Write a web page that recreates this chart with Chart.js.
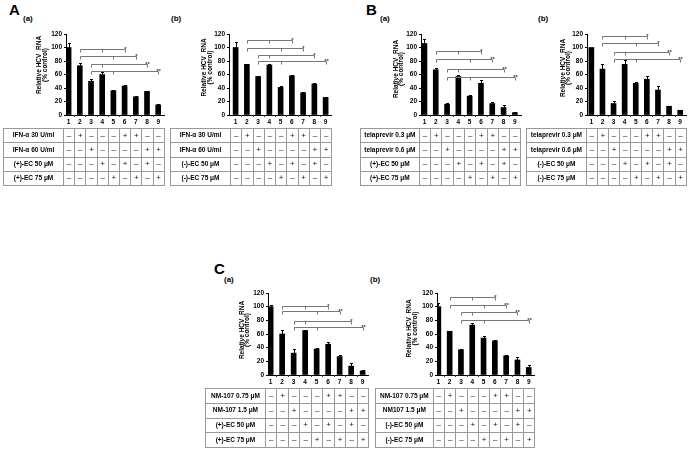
<!DOCTYPE html>
<html><head><meta charset="utf-8">
<script src="https://cdn.jsdelivr.net/npm/chart.js@4/dist/chart.umd.min.js"></script>
<style>
html,body{margin:0;padding:0;background:#fff;}
#fig{position:relative;width:689px;height:449px;overflow:hidden;font-family:Arial,"Liberation Sans",sans-serif;}
.lbl{position:absolute;font-weight:bold;color:#000;white-space:nowrap;line-height:1;}
.big{font-size:15px;}
.sub{font-size:8px;}
canvas{position:absolute;}
table.tr{position:absolute;border-collapse:collapse;border:1.5px solid #333;table-layout:fixed;font-weight:bold;font-size:6.5px;color:#000;filter:grayscale(1);}
table.tr td{border:1px solid #999;padding:0;text-align:center;overflow:hidden;white-space:nowrap;line-height:1;}
table.tr td.s{font-size:8px;font-weight:normal;color:#111;}
</style>
</head><body><div id="fig"></div>
<script>
// ---------- data ----------
const lanes = ['1','2','3','4','5','6','7','8','9'];
const yTicks = [0,20,40,60,80,100,120];
const yTitle = ['Relative HCV  RNA','(% control)'];
const signRows = [
  ['–','+','–','–','–','+','+','–','–'],
  ['–','–','+','–','–','–','–','+','+'],
  ['–','–','–','+','–','+','–','+','–'],
  ['–','–','–','–','+','–','+','–','+']
];

const aaLabels = ['IFN-α 30 U/ml','IFN-α 60 U/ml','(+)-EC 50 μM','(+)-EC 75 μM'];
const aaValues = [100,73,50,60,36,43,27,35,15];
const aaErrors = [7,3.5,3,3.5,1,2,1,1,1];
const aaBrackets = [[2,4,6,97.7,'*'],[2,5,7,86.8,'*'],[3,4,8,75.9,'**'],[3,5,9,65.9,'**']];

const abLabels = ['IFN-α 30 U/ml','IFN-α 60 U/ml','(-)-EC 50 μM','(-)-EC 75 μM'];
const abValues = [100,75,57,74,41,58,33,46,26];
const abErrors = [8,1,1.5,1,2,1.5,1,1,1];
const abBrackets = [[2,4,6,110.6,'*'],[2,5,7,99.2,'*'],[3,4,8,89.2,'*'],[3,5,9,79.3,'**']];

const baLabels = ['telaprevir 0.3 μM','telaprevir 0.6 μM','(+)-EC 50 μM','(+)-EC 75 μM'];
const baValues = [106,67,16,57,28,47,17,11,3.5];
const baErrors = [7,2,2,2,1,5,2,4,1];
const baBrackets = [[2,4,6,94.2,'*'],[2,5,7,82.8,'**'],[3,4,8,68.4,'**'],[3,5,9,57,'**']];

const bbLabels = ['telaprevir 0.3 μM','telaprevir 0.6 μM','(-)-EC 50 μM','(-)-EC 75 μM'];
const bbValues = [100,68,17,75,47,53,37,13,7];
const bbErrors = [0,8,4,6,2,4.5,6.5,1,1];
const bbBrackets = [[2,4,6,117.5,'*'],[2,5,7,106.6,'*'],[3,4,8,92.7,'**'],[3,5,9,82.8,'**']];

const caLabels = ['NM-107 0.75 μM','NM-107 1.5 μM','(+)-EC 50 μM','(+)-EC 75 μM'];
const caValues = [100,60,32,65,38,45,27,13,6];
const caErrors = [3,6,6,1,1,3.5,2,4,2];
const caBrackets = [[2,4,6,101.5,'*'],[2,5,7,93.1,'**'],[3,4,8,78.4,'*'],[3,5,9,70.1,'**']];

const cbLabels = ['NM-107 0.75 μM','NM107 1.5 μM','(-)-EC 50 μM','(-)-EC 75 μM'];
const cbValues = [100,64,37,73,54,50,28,22,11];
const cbErrors = [5,1,1.5,3.5,3,1,2,4,3];
const cbBrackets = [[2,4,6,113.7,'*'],[2,5,7,102.9,'**'],[3,4,8,92.2,'**'],[3,5,9,79.9,'**']];

// ---------- layout ----------
const panels = [
  {letter:'A',lx:9,ly:2,sub:'(a)',sx:23,sy:15,axisX:66,y120:34,y0:115,colStart:63,colW:11.2,tableX:3,tableY:128,rowH:14.25,tdx:26.5,tcy:31,
   labels:aaLabels,values:aaValues,errors:aaErrors,brackets:aaBrackets},
  {sub:'(b)',sx:171,sy:15,axisX:229,y120:34,y0:115,colStart:230,colW:11.25,tableX:170,tableY:128,rowH:14.25,tdx:24.5,tcy:33.5,
   labels:abLabels,values:abValues,errors:abErrors,brackets:abBrackets},
  {letter:'B',lx:366,ly:2,sub:'(a)',sx:380,sy:15,axisX:421,y120:34,y0:115,colStart:418.8,colW:11.3,tableX:360,tableY:128,rowH:14.25,tdx:25,tcy:35,
   labels:baLabels,values:baValues,errors:baErrors,brackets:baBrackets},
  {sub:'(b)',sx:538,sy:15,axisX:587,y120:34,y0:115,colStart:585.8,colW:11.1,tableX:526,tableY:128,rowH:14.25,tdx:24,tcy:34,
   labels:bbLabels,values:bbValues,errors:bbErrors,brackets:bbBrackets},
  {letter:'C',lx:214,ly:261,sub:'(a)',sx:224,sy:276,axisX:268,y120:293,y0:375,colStart:264.9,colW:11.5,tableX:205,tableY:388,rowH:14.75,tdx:26,tcy:37,
   labels:caLabels,values:caValues,errors:caErrors,brackets:caBrackets},
  {sub:'(b)',sx:370,sy:276,axisX:437,y120:293,y0:375,colStart:432.7,colW:11.3,tableX:375,tableY:388,rowH:14.75,tdx:27.5,tcy:35.5,
   labels:cbLabels,values:cbValues,errors:cbErrors,brackets:cbBrackets}
];

const annot = {
  id:'annot',
  afterDatasetsDraw(chart, args, o){
    const ctx = chart.ctx, xs = chart.scales.x, ys = chart.scales.y, ca = chart.chartArea;
    ctx.save();
    // error bars
    ctx.strokeStyle = '#000'; ctx.lineWidth = 1;
    o.values.forEach((v,i)=>{
      const e = o.errors[i]; if(!e) return;
      const x = Math.round(xs.getPixelForValue(i+1))+0.5;
      const y1 = ys.getPixelForValue(v), y2 = Math.round(ys.getPixelForValue(v+e))+0.5;
      ctx.beginPath(); ctx.moveTo(x,y1); ctx.lineTo(x,y2); ctx.moveTo(x-1.5,y2); ctx.lineTo(x+1.5,y2); ctx.stroke();
    });
    // small separators on the category axis between lanes
    ctx.strokeStyle = '#333';
    for(let i=1;i<lanes.length;i++){
      const x = Math.round(xs.getPixelForValue(i+0.5))+0.5;
      ctx.beginPath(); ctx.moveTo(x, ca.bottom); ctx.lineTo(x, ca.bottom+2); ctx.stroke();
    }
    // significance brackets
    ctx.strokeStyle = '#777'; ctx.fillStyle = '#444'; ctx.lineWidth = 1;
    ctx.font = 'bold 6px Arial'; ctx.textAlign = 'center'; ctx.textBaseline = 'bottom';
    o.brackets.forEach(b=>{
      const y = Math.round(ys.getPixelForValue(b[3]))+0.5;
      const xl = Math.round(xs.getPixelForValue(b[0]))+0.5, xm = Math.round(xs.getPixelForValue(b[1]))+0.5, xr = Math.round(xs.getPixelForValue(b[2]))+0.5;
      ctx.beginPath();
      ctx.moveTo(xl,y+3); ctx.lineTo(xl,y); ctx.lineTo(xr,y); ctx.lineTo(xr,y+3);
      ctx.moveTo(xm,y); ctx.lineTo(xm,y+3);
      ctx.stroke();
      ctx.fillText(b[4], xr, y+2.5);
    });
    // y-axis title
    ctx.fillStyle = '#000'; ctx.font = 'bold 6.5px Arial'; ctx.textBaseline = 'middle';
    ctx.translate(ca.left - o.tdx, ca.top + o.tcy);
    ctx.rotate(-Math.PI/2);
    o.title.forEach((t,k)=>ctx.fillText(t, 0, k*5.5));
    ctx.restore();
  }
};

const fig = document.getElementById('fig');
function addLabel(text, cls, x, y){
  const d = document.createElement('div');
  d.className = 'lbl '+cls; d.textContent = text;
  d.style.left = x+'px'; d.style.top = y+'px';
  fig.appendChild(d);
}

function makePanel(p){
  if(p.letter) addLabel(p.letter,'big',p.lx,p.ly);
  addLabel(p.sub,'sub',p.sx,p.sy);
  const L = 34, T = 16, B = 12, R = 2;
  const ax = Math.round(p.axisX);
  const plotW = Math.round(p.colStart + 9*p.colW - ax);
  const plotH = p.y0 - p.y120;
  const cv = document.createElement('canvas');
  cv.width = L+plotW+R; cv.height = T+plotH+B;
  cv.style.left = (ax-L)+'px'; cv.style.top = (p.y120-T)+'px';
  cv.style.width = cv.width+'px'; cv.style.height = cv.height+'px';
  fig.appendChild(cv);
  const xmin = 0.5 + (ax - p.colStart)/p.colW;
  const xmax = 0.5 + (ax + plotW - p.colStart)/p.colW;
  const tickFont = {size:6.5, weight:'bold', family:'Arial'};
  new Chart(cv, {
    type:'bar',
    data:{datasets:[{data:p.values.map((v,i)=>({x:i+1,y:v})), backgroundColor:'#000', borderWidth:0, barThickness:5}]},
    options:{
      responsive:false, animation:false, devicePixelRatio:1,
      layout:{padding:{top:T,right:R,left:0,bottom:0}},
      plugins:{legend:{display:false}, tooltip:{enabled:false},
        annot:{values:p.values, errors:p.errors, brackets:p.brackets, title:yTitle, tdx:p.tdx, tcy:p.tcy}},
      scales:{
        x:{type:'linear', min:xmin, max:xmax, offset:false,
          afterBuildTicks:s=>{s.ticks = lanes.map((l,i)=>({value:i+1}));},
          afterFit:s=>{s.height = B;},
          ticks:{callback:v=>lanes[Math.round(v)-1], font:tickFont, color:'#000', padding:3, autoSkip:false, maxRotation:0, minRotation:0},
          grid:{display:true, drawOnChartArea:false, drawTicks:false},
          border:{display:true, color:'#000', width:1}},
        y:{min:0, max:120,
          afterBuildTicks:s=>{s.ticks = yTicks.map(v=>({value:v}));},
          afterFit:s=>{s.width = L;},
          ticks:{font:tickFont, color:'#000', padding:2},
          grid:{drawOnChartArea:false, tickLength:2, color:'#000'},
          border:{display:true, color:'#000', width:1}}
      }
    },
    plugins:[annot]
  });
  // treatment table
  const tb = document.createElement('table');
  tb.className = 'tr';
  const labelW = p.colStart - p.tableX;
  tb.style.left = p.tableX+'px'; tb.style.top = p.tableY+'px';
  tb.style.width = (labelW + 9*p.colW)+'px';
  let html = '<colgroup><col style="width:'+labelW+'px">';
  for(let i=0;i<9;i++) html += '<col style="width:'+p.colW+'px">';
  html += '</colgroup>';
  p.labels.forEach((lab,r)=>{
    html += '<tr style="height:'+p.rowH+'px"><td>'+lab+'</td>';
    signRows[r].forEach(s=>{ html += '<td class="s">'+s+'</td>'; });
    html += '</tr>';
  });
  tb.innerHTML = html;
  fig.appendChild(tb);
}
panels.forEach(makePanel);
</script>
</body></html>
